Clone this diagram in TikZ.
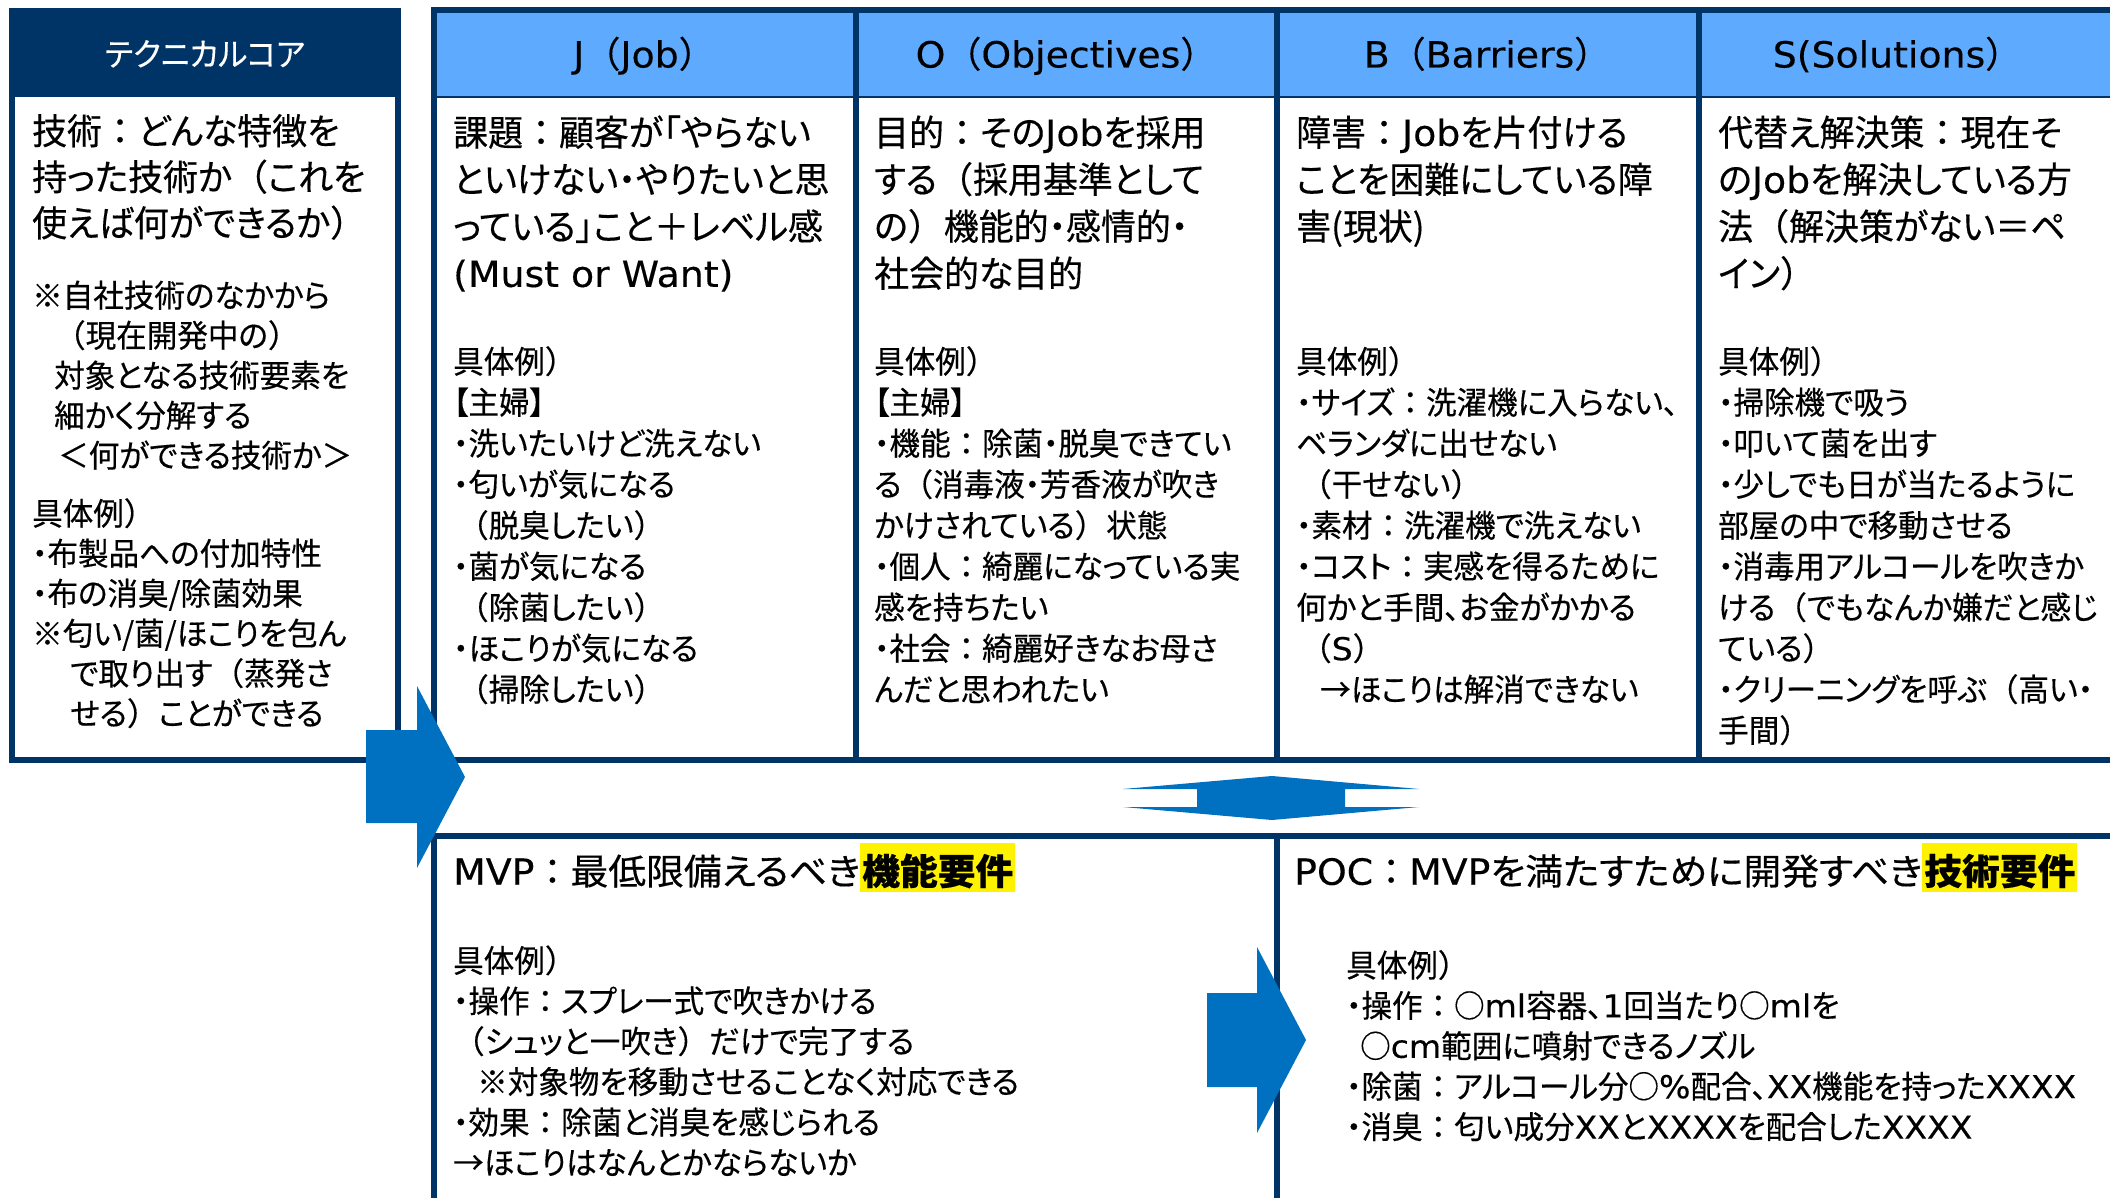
\documentclass[tikz,border=0pt]{standalone}
\usepackage{fontspec}
\setmainfont{Noto Sans CJK JP}[RawFeature=+palt, FakeStretch=0.97, FakeBold=0.4]
\newfontfamily\fw{Noto Sans CJK JP}[FakeStretch=1.0, FakeBold=0.4]
\newfontfamily\lat{DejaVu Sans}[FakeStretch=1.05, FakeBold=0.3]
\newfontfamily\ttlfont{Noto Sans CJK JP}[RawFeature=+palt, FakeStretch=1.05, FakeBold=0.4]
\newcommand\jco{{\fw ：}}
\newcommand\jlp{{\fw （}}
\newcommand\jrp{{\fw ）}}
\newcommand\hlbox[1]{{\setlength{\fboxsep}{0pt}\colorbox{yellow}{\hspace*{2pt}\rule[-7pt]{0pt}{48.5pt}\bfseries #1\hspace*{2pt}}}}
\definecolor{jnavy}{HTML}{003366}
\definecolor{jhdr}{HTML}{5DAAFF}
\definecolor{jarr}{HTML}{0070C0}
\begin{document}
\begin{tikzpicture}[x=1pt,y=-1pt,
  hdr/.style={anchor=base, inner sep=0pt, font=\fontsize{36}{42}\selectfont},
  lbig/.style={anchor=north west, inner sep=0pt, align=left, font=\fontsize{36}{46}\selectfont},
  lsmall/.style={anchor=north west, inner sep=0pt, align=left, font=\fontsize{31.5}{40}\selectfont},
  cbig/.style={anchor=north west, inner sep=0pt, align=left, font=\fontsize{36}{47}\selectfont},
  csmall/.style={anchor=north west, inner sep=0pt, align=left, font=\fontsize{31.5}{41}\selectfont},
  ttl/.style={anchor=base west, inner sep=0pt, font=\ttlfont\fontsize{36}{46}\selectfont},
  bsmall/.style={anchor=north west, inner sep=0pt, align=left, font=\fontsize{31.5}{40.4}\selectfont},
  frame/.style={jnavy, line width=6pt},
  blockarrow/.style={fill=jarr}
]
\useasboundingbox (0,0) rectangle (2110,1198);
\fill[white] (0,0) rectangle (2110,1198);
\clip (0,0) rectangle (2110,1198);

% ---- left box (technical core)
\fill[jnavy] (12,11) rectangle (398,97);
\draw[frame] (12,11) rectangle (398,760);

% ---- top JOBS table
\fill[jhdr] (433.5,11) rectangle (2130,97);
\draw[jnavy, line width=2pt] (433.5,97) -- (2130,97);
\draw[frame] (2130,10.5) -- (433.5,10.5) -- (433.5,760) -- (2130,760);
\foreach \x in {855.5,1277,1698.5} \draw[frame] (\x,10.5) -- (\x,760);

% ---- bottom table
\draw[frame] (433.5,1210) -- (433.5,835.5) -- (2130,835.5);
\draw[frame] (1277,835.5) -- (1277,1210);

% ---- block arrows
\fill[blockarrow] (366,730) -- (417,730) -- (417,686) -- (465,777) -- (417,868) -- (417,823) -- (366,823) -- cycle;
\fill[blockarrow] (1123,789) -- (1272,776) -- (1419,789) -- (1345,789) -- (1345,807) -- (1419,807) -- (1272,820) -- (1123,807) -- (1197,807) -- (1197,789) -- cycle;
\fill[blockarrow] (1207,993) -- (1257,993) -- (1257,947) -- (1306,1040) -- (1257,1133) -- (1257,1087) -- (1207,1087) -- cycle;

% ---- headers
\node[hdr, text=white, font=\fontsize{32}{38}\selectfont] (hTC) at (205,66) {テクニカルコア};
\node[hdr] (hJ) at (644,67.5) {{\lat J}\jlp{\lat Job}\jrp};
\node[hdr] (hO) at (1066,67.5) {{\lat O}\jlp{\lat Objectives}\jrp};
\node[hdr] (hB) at (1487,67.5) {{\lat B}\jlp{\lat Barriers}\jrp};
\node[hdr] (hS) at (1897,67.5) {{\lat S(Solutions}\jrp};

% ---- left box text
\node[lbig] (tcBig) at (32,112) {\strut 技術\jco どんな特徴を\\持った技術か\jlp これを\\使えば何ができるか\jrp};
\node[lsmall] (tcNote) at (32,279) {\strut ※自社技術のなかから\\
\hspace*{22pt}\jlp 現在開発中の\jrp\\
\hspace*{22pt}対象となる技術要素を\\
\hspace*{22pt}細かく分解する\\
\hspace*{26pt}＜何ができる技術か＞};
\node[lsmall] (tcEx) at (32,497) {\strut 具体例\jrp\\
・布製品への付加特性\\
・布の消臭/除菌効果\\
※匂い/菌/ほこりを包ん\\
\hspace*{38pt}で取り出す\jlp 蒸発さ\\
\hspace*{38pt}せる\jrp ことができる};

% ---- J column
\node[cbig] (jBig) at (453,112.8) {\strut 課題\jco 顧客が「やらない\\といけない・やりたいと思\\っている」こと＋レベル感\\{\lat (Must or Want)}};
\node[csmall] (jEx) at (453,344.3) {\strut 具体例\jrp\\
【主婦】\\
・洗いたいけど洗えない\\
・匂いが気になる\\
\hspace*{4pt}\jlp 脱臭したい\jrp\\
・菌が気になる\\
\hspace*{4pt}\jlp 除菌したい\jrp\\
・ほこりが気になる\\
\hspace*{4pt}\jlp 掃除したい\jrp};

% ---- O column
\node[cbig] (oBig) at (874,112.8) {\strut 目的\jco その{\lat Job}を採用\\する\jlp 採用基準として\\の\jrp 機能的・感情的・\\社会的な目的};
\node[csmall] (oEx) at (874,344.3) {\strut 具体例\jrp\\
【主婦】\\
・機能\jco 除菌・脱臭できてい\\
る\jlp 消毒液・芳香液が吹き\\
かけされている\jrp 状態\\
・個人\jco 綺麗になっている実\\
感を持ちたい\\
・社会\jco 綺麗好きなお母さ\\
んだと思われたい};

% ---- B column
\node[cbig] (bBig) at (1296,112.8) {\strut 障害\jco {\lat Job}を片付ける\\ことを困難にしている障\\害(現状)};
\node[csmall] (bEx) at (1296,344.3) {\strut 具体例\jrp\\
・サイズ\jco 洗濯機に入らない、\\
ベランダに出せない\\
\hspace*{4pt}\jlp 干せない\jrp\\
・素材\jco 洗濯機で洗えない\\
・コスト\jco 実感を得るために\\
何かと手間、お金がかかる\\
\hspace*{4pt}\jlp{\lat S}\jrp\\
\hspace*{24pt}→ほこりは解消できない};

% ---- S column
\node[cbig] (sBig) at (1718,112.8) {\strut 代替え解決策\jco 現在そ\\の{\lat Job}を解決している方\\法\jlp 解決策がない＝ペ\\イン\jrp};
\node[csmall] (sEx) at (1718,344.3) {\strut 具体例\jrp\\
・掃除機で吸う\\
・叩いて菌を出す\\
・少しでも日が当たるように\\
部屋の中で移動させる\\
・消毒用アルコールを吹きか\\
ける\jlp でもなんか嫌だと感じ\\
ている\jrp\\
・クリーニングを呼ぶ\jlp 高い・\\
手間\jrp};

% ---- MVP
\node[ttl] (mvpT) at (453,884.7) {{\lat MVP}\jco 最低限備えるべき\hlbox{機能要件}};
\node[bsmall] (mvpEx) at (453,943.9) {\strut 具体例\jrp\\
・操作\jco スプレー式で吹きかける\\
\jlp シュッと一吹き\jrp だけで完了する\\
\hspace*{24pt}※対象物を移動させることなく対応できる\\
・効果\jco 除菌と消臭を感じられる\\
→ほこりはなんとかならないか};

% ---- POC
\node[ttl] (pocT) at (1294,884.7) {{\lat POC}\jco{\lat MVP}を満たすために開発すべき\hlbox{技術要件}};
\node[bsmall] (pocEx) at (1346,948.5) {\strut 具体例\jrp\\
・操作\jco ○{\lat ml}容器、{\lat 1}回当たり○{\lat ml}を\\
\hspace*{14pt}○{\lat cm}範囲に噴射できるノズル\\
・除菌\jco アルコール分○{\lat \%}配合、{\lat XX}機能を持った{\lat XXXX}\\
・消臭\jco 匂い成分{\lat XX}と{\lat XXXX}を配合した{\lat XXXX}};
\end{tikzpicture}
\end{document}
